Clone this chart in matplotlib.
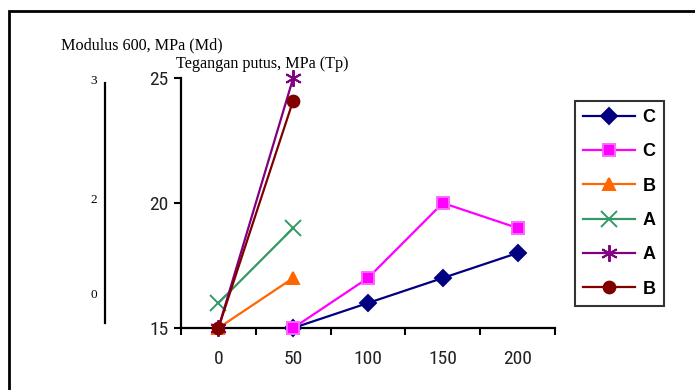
import matplotlib
matplotlib.use("Agg")
import matplotlib.pyplot as plt
import matplotlib.transforms as mtransforms
from matplotlib.patches import Rectangle
from matplotlib.lines import Line2D
from matplotlib import font_manager

# Tensile strength (Tp) series by load level
x_levels = [0, 50, 100, 150, 200]
series_labels = ["C", "C", "B", "A", "A", "B"]
series_x = [
    [50, 100, 150, 200],
    [50, 100, 150, 200],
    [0, 50],
    [0, 50],
    [0, 50],
    [0, 50],
]
series_y = [
    [15, 16, 17, 18],
    [15, 17, 20, 19],
    [15, 17],
    [16, 19],
    [15, 25],
    [15, 24.1],
]
series_colors = ["#000080", "#FF00FF", "#FF6600", "#339966", "#800080", "#800000"]
series_markers = ["D", "s", "^", "x", (6, 2, 0), "o"]
series_msize = [8, 8, 9, 11, 12, 8.5]

# Secondary (modulus) scale labels
md_ticks = ["3", "2", "0"]
md_pos = [24.9, 20.1, 16.3]

W, H = 695, 390
fig = plt.figure(figsize=(W / 100, H / 100), dpi=100)

def fx(px):
    return px / W

def fy(py):
    return 1 - py / H

installed = {f.name for f in font_manager.fontManager.ttflist}
narrow_pick = next((n for n in ["Liberation Sans Narrow", "DejaVu Sans Condensed",
                                "Roboto Condensed", "Liberation Sans"] if n in installed),
                   "DejaVu Sans")
narrow = [narrow_pick, "DejaVu Sans"]
serif = ["Liberation Serif", "DejaVu Serif"]

ax = fig.add_axes([fx(181), fy(328), (555 - 181) / W, (328 - 78) / H])

handles = []
for xs, ys, c, m, ms, lab in zip(series_x, series_y, series_colors,
                                 series_markers, series_msize, series_labels):
    mec = "#FF66FF" if m == "s" else c
    h, = ax.plot(xs, ys, color=c, lw=1.6, marker=m, markersize=ms,
                 markerfacecolor=c, markeredgecolor=mec,
                 markeredgewidth=1.4, label=lab, clip_on=False, zorder=3)
    handles.append(h)

ax.set_xlim(-25, 225)
ax.set_ylim(15, 25)
ax.set_xticks([-25, 25, 75, 125, 175, 225])
ax.set_xticklabels([])
ax.set_xticks(x_levels, minor=True)
ax.set_xticklabels([str(v) for v in x_levels], minor=True,
                   family=narrow, fontsize=14, color="#222222")
ax.tick_params(axis="x", which="minor", length=0, pad=16)
ax.tick_params(axis="x", which="major", length=5, width=1.5, direction="out")
ax.set_yticks([15, 20, 25])
ax.set_yticklabels(["15", "20", "25"], family=narrow, fontsize=14, color="#222222")
ax.tick_params(axis="y", length=5, width=1.5, direction="out", pad=4)
for s in ["top", "right"]:
    ax.spines[s].set_visible(False)
for s in ["left", "bottom"]:
    ax.spines[s].set_linewidth(1.6)

# Secondary modulus axis drawn as a bare line with labels
blend = mtransforms.blended_transform_factory(fig.transFigure, ax.transData)
fig.add_artist(Line2D([fx(105), fx(105)], [24.8, 15.2], transform=blend,
                      color="black", lw=1.6))
for t, p in zip(md_ticks, md_pos):
    fig.text(fx(94), p, t, transform=blend, ha="center", va="center",
             family=serif, fontsize=9.5)

fig.text(fx(61), fy(45), "Modulus 600, MPa (Md)", ha="left", va="center",
         family=serif, fontsize=11.6)
fig.text(fx(176), fy(64), "Tegangan putus, MPa (Tp)", ha="left", va="center",
         family=serif, fontsize=11.6)

# Outer frame
fig.add_artist(Rectangle((fx(9), -0.1), 1.2, fy(11) + 0.1, transform=fig.transFigure,
                         fill=False, edgecolor="black", lw=2))

leg = fig.legend(handles=handles, loc="upper left",
                 bbox_to_anchor=(fx(575), fy(101)),
                 prop={"family": "Liberation Sans", "weight": "bold", "size": 13},
                 frameon=True, fancybox=False, edgecolor="black",
                 handlelength=2.9, handletextpad=0.4, labelspacing=0.96,
                 borderpad=0.45, borderaxespad=0)
leg.get_frame().set_linewidth(1.5)

fig.savefig("out.png", dpi=100)
